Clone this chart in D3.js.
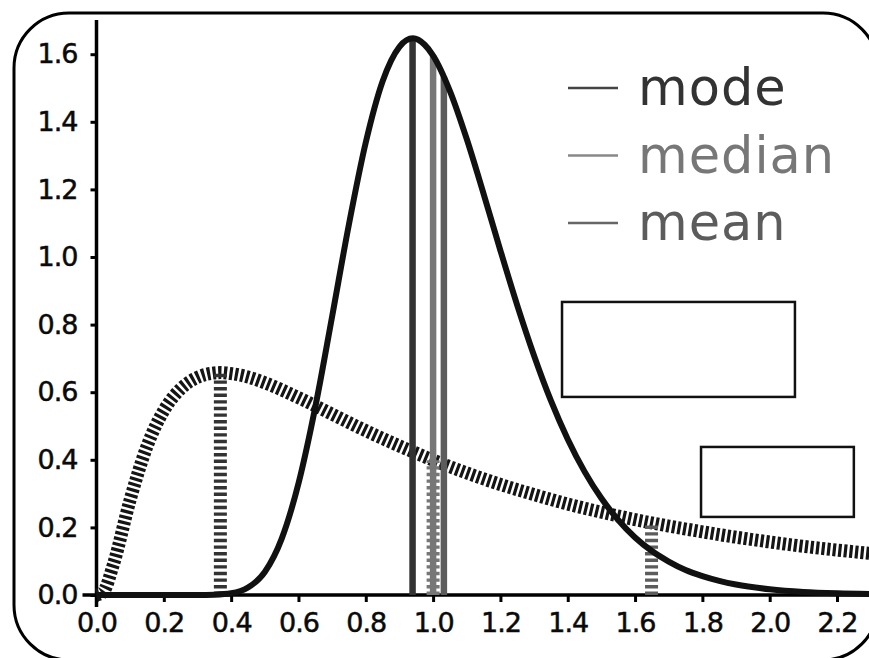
<!DOCTYPE html>
<html>
<head>
<meta charset="utf-8">
<title>Log-normal: mode, median, mean</title>
<script src="https://d3js.org/d3.v7.min.js"></script>
<style>
  body { margin: 0; padding: 0; background: #fff; }
  svg text { font-family: "DejaVu Sans", sans-serif; }
</style>
</head>
<body>
<div id="chart"></div>
<script>
// narrow curve (sigma 0.25)
var narrowX = [0.0, 0.2, 0.3, 0.35, 0.4, 0.45, 0.5, 0.55, 0.6, 0.65, 0.7, 0.75, 0.8, 0.85, 0.9, 0.94, 0.975, 1.0, 1.05, 1.1, 1.15, 1.2, 1.25, 1.3, 1.35, 1.4, 1.45, 1.5, 1.55, 1.6, 1.65, 1.7, 1.75, 1.8, 1.85, 1.9, 2.0, 2.1, 2.2, 2.3]
var narrowY = [0.0, 0.0, 0.0, 0.001, 0.005, 0.022, 0.068, 0.166, 0.330, 0.556, 0.824, 1.097, 1.339, 1.520, 1.622, 1.647, 1.628, 1.596, 1.491, 1.349, 1.187, 1.019, 0.857, 0.708, 0.575, 0.461, 0.365, 0.286, 0.222, 0.170, 0.130, 0.099, 0.074, 0.056, 0.042, 0.031, 0.017, 0.009, 0.005, 0.003]

// wide curve (sigma 1), dashed
var wideX = [0.0, 0.02, 0.05, 0.1, 0.15, 0.2, 0.25, 0.3, 0.35, 0.368, 0.4, 0.45, 0.5, 0.6, 0.7, 0.8, 0.9, 1.0, 1.1, 1.2, 1.3, 1.4, 1.5, 1.6, 1.7, 1.8, 1.9, 2.0, 2.1, 2.2, 2.3]
var wideY = [0.0, 0.009, 0.090, 0.282, 0.440, 0.546, 0.610, 0.644, 0.657, 0.658, 0.655, 0.645, 0.628, 0.584, 0.535, 0.486, 0.441, 0.399, 0.361, 0.327, 0.297, 0.269, 0.245, 0.223, 0.204, 0.187, 0.171, 0.157, 0.144, 0.133, 0.123]

var statNames = ["mode", "median", "mean"]
var statColors = ["#333333", "#777777", "#5c5c5c"]
var legendColors = ["#444444", "#888888", "#666666"]
var narrowStatX = [0.939, 1.0, 1.032]
var narrowStatY = [1.647, 1.596, 1.534]
var wideStatX = [0.368, 1.0, 1.649]
var wideStatY = [0.658, 0.399, 0.214]

var xTicks = [0.0, 0.2, 0.4, 0.6, 0.8, 1.0, 1.2, 1.4, 1.6, 1.8, 2.0, 2.2]
var yTicks = [0.0, 0.2, 0.4, 0.6, 0.8, 1.0, 1.2, 1.4, 1.6]

// empty label boxes, in data units [x0, x1, y0, y1]
var boxes = [[1.383, 2.075, 0.586, 0.867], [1.796, 2.250, 0.231, 0.438]]

var W = 869, H = 658

var svg = d3.select("#chart").append("svg")
    .attr("width", W)
    .attr("height", H)

var x = d3.scaleLinear().domain([0, 2.3]).range([96.5, 96.5 + 2.3 * 336.6])
var y = d3.scaleLinear().domain([0, 1.7]).range([595, 595 - 1.7 * 338])

// frame
svg.append("rect")
    .attr("x", 14).attr("y", 13)
    .attr("width", 864).attr("height", 647)
    .attr("rx", 55).attr("ry", 55)
    .attr("fill", "none")
    .attr("stroke", "#000")
    .attr("stroke-width", 3)

// axes
var yAxis = svg.append("g")
    .attr("transform", "translate(" + x(0) + ",0)")
    .call(d3.axisLeft(y).tickValues(yTicks).tickFormat(d3.format(".1f")).tickSize(6).tickPadding(13))
    .attr("font-size", 27)
    .attr("font-family", "DejaVu Sans")
var xAxis = svg.append("g")
    .attr("transform", "translate(0," + y(0) + ")")
    .call(d3.axisBottom(x).tickValues(xTicks).tickFormat(d3.format(".1f")).tickSize(7).tickPadding(11))
    .attr("font-size", 27)
    .attr("font-family", "DejaVu Sans")

svg.selectAll(".domain").remove()
svg.selectAll(".tick line").attr("stroke", "#000").attr("stroke-width", 3)
svg.selectAll(".tick text")
    .style("letter-spacing", "-1px")
    .attr("fill", "#0a0a0a")
    .attr("stroke", "#0a0a0a")
    .attr("stroke-width", 0.5)

svg.append("line")
    .attr("x1", x(0)).attr("x2", x(0))
    .attr("y1", 20).attr("y2", y(0) + 12)
    .attr("stroke", "#000").attr("stroke-width", 3.5)
svg.append("line")
    .attr("x1", x(0) - 14).attr("x2", W)
    .attr("y1", y(0)).attr("y2", y(0))
    .attr("stroke", "#000").attr("stroke-width", 3.5)

var line = d3.line()
    .x(function (d) { return x(d[0]) })
    .y(function (d) { return y(d[1]) })
    .curve(d3.curveMonotoneX)

// dashed curve
svg.append("path")
    .datum(d3.zip(wideX, wideY))
    .attr("d", line)
    .attr("fill", "none")
    .attr("stroke", "#151515")
    .attr("stroke-width", 13)
    .attr("stroke-dasharray", "3.2,2.4")

// dashed verticals
svg.selectAll(".wideStat")
    .data(d3.range(3))
    .enter()
    .append("line")
    .attr("class", "wideStat")
    .attr("x1", function (i) { return x(wideStatX[i]) })
    .attr("x2", function (i) { return x(wideStatX[i]) })
    .attr("y1", y(0))
    .attr("y2", function (i) { return y(wideStatY[i]) })
    .attr("stroke", function (i) { return statColors[i] })
    .attr("stroke-width", 13)
    .attr("stroke-dasharray", "3.4,3.2")

// solid verticals
svg.selectAll(".narrowStat")
    .data(d3.range(3))
    .enter()
    .append("line")
    .attr("class", "narrowStat")
    .attr("x1", function (i) { return x(narrowStatX[i]) })
    .attr("x2", function (i) { return x(narrowStatX[i]) })
    .attr("y1", y(0))
    .attr("y2", function (i) { return y(narrowStatY[i]) })
    .attr("stroke", function (i) { return statColors[i] })
    .attr("stroke-width", 6.5)

// solid curve
svg.append("path")
    .datum(d3.zip(narrowX, narrowY))
    .attr("d", line)
    .attr("fill", "none")
    .attr("stroke", "#111")
    .attr("stroke-width", 6)

// empty boxes
svg.selectAll(".box")
    .data(boxes)
    .enter()
    .append("rect")
    .attr("class", "box")
    .attr("x", function (d) { return x(d[0]) })
    .attr("y", function (d) { return y(d[3]) })
    .attr("width", function (d) { return x(d[1]) - x(d[0]) })
    .attr("height", function (d) { return y(d[2]) - y(d[3]) })
    .attr("fill", "#fff")
    .attr("stroke", "#111")
    .attr("stroke-width", 2.5)

// legend
var legend = svg.append("g").attr("transform", "translate(568,88)")
legend.selectAll("line")
    .data(statNames)
    .enter()
    .append("line")
    .attr("x1", 0).attr("x2", 50)
    .attr("y1", function (d, i) { return i * 67.5 })
    .attr("y2", function (d, i) { return i * 67.5 })
    .attr("stroke", function (d, i) { return legendColors[i] })
    .attr("stroke-width", 2.5)
legend.selectAll("text")
    .data(statNames)
    .enter()
    .append("text")
    .attr("x", 70)
    .attr("y", function (d, i) { return i * 67.5 + 17 })
    .attr("font-size", 51)
    .attr("letter-spacing", 1)
    .attr("fill", function (d, i) { return statColors[i] })
    .text(function (d) { return d })
</script>
</body>
</html>
